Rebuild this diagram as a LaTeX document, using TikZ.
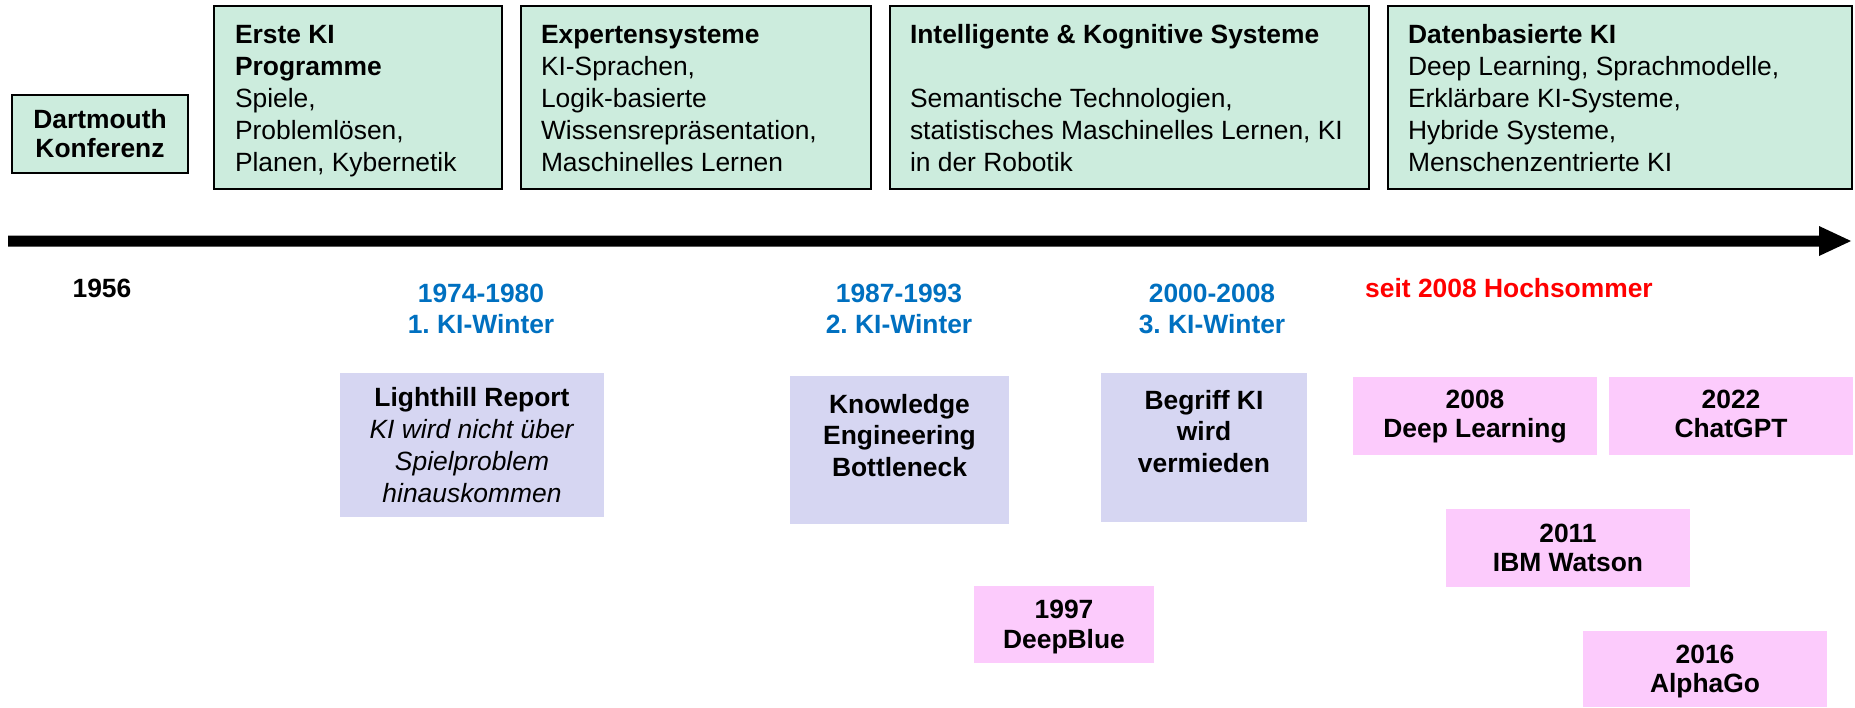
\documentclass[tikz,border=0pt]{standalone}
\usepackage{fontspec}
\setmainfont{Liberation Sans}
\usetikzlibrary{calc}
\definecolor{boxgreen}{HTML}{CCECDD}
\definecolor{boxlav}{HTML}{D6D6F2}
\definecolor{boxpink}{HTML}{FCCBFC}
\definecolor{winterblue}{HTML}{0070C0}
\definecolor{summerred}{HTML}{FF0000}
\newcommand\TLines[2]{\begin{tabular}[t]{@{}#1@{}}#2\end{tabular}}
\frenchspacing
\begin{document}
\begin{tikzpicture}[x=1pt,y=-1pt,
  erabox/.style={draw=black, line width=2.4pt, fill=boxgreen, rectangle, inner sep=0pt, outer sep=0pt, anchor=north west},
  winterbox/.style={fill=boxlav, rectangle, inner sep=0pt, outer sep=0pt, anchor=north west},
  eventbox/.style={fill=boxpink, rectangle, inner sep=0pt, outer sep=0pt, anchor=north west, minimum width=244, minimum height=78},
  txt/.style={inner sep=0pt, outer sep=0pt},
  f32/.style={font=\fontsize{26.4}{32}\selectfont},
  fbold/.style={font=\fontsize{26.4}{#1}\selectfont\bfseries},
  bluelab/.style={txt, anchor=base, text=winterblue, fbold=31}
]
\useasboundingbox (0,0) rectangle (1855,707);

% timeline arrow
\coordinate (tlstart) at (8,241);
\coordinate (tlend) at (1851,241);
\fill[black] (8,235.5) -- (1819,235.5) -- (1819,226) -- (tlend) -- (1819,256) -- (1819,246.5) -- (8,246.5) -- cycle;

% era boxes (top)
\node[erabox, minimum width=176, minimum height=78] (dart) at (12,95) {};
\node[txt, anchor=base, fbold=29] (dartT) at ($(dart.north)+(0,33)$) {\TLines{c}{Dartmouth\\Konferenz}};

\node[erabox, minimum width=288, minimum height=183] (erste) at (214,6) {};
\node[txt, anchor=base west, f32] (ersteT) at ($(erste.north west)+(21,37.5)$)
  {\TLines{l}{\textbf{Erste KI}\\\textbf{Programme}\\Spiele,\\Problemlösen,\\Planen, Kybernetik}};

\node[erabox, minimum width=350, minimum height=183] (expert) at (521,6) {};
\node[txt, anchor=base west, f32] (expertT) at ($(expert.north west)+(20,37.5)$)
  {\TLines{l}{\textbf{Expertensysteme}\\KI-Sprachen,\\Logik-basierte\\Wissensrepräsentation,\\Maschinelles Lernen}};

\node[erabox, minimum width=479, minimum height=183] (intel) at (890,6) {};
\node[txt, anchor=base west, f32] (intelT) at ($(intel.north west)+(20,37.5)$)
  {\TLines{l}{\textbf{Intelligente \& Kognitive Systeme}\\ \\Semantische Technologien,\\statistisches Maschinelles Lernen, KI\\in der Robotik}};

\node[erabox, minimum width=464, minimum height=183] (daten) at (1388,6) {};
\node[txt, anchor=base west, f32] (datenT) at ($(daten.north west)+(20,37.5)$)
  {\TLines{l}{\textbf{Datenbasierte KI}\\Deep Learning, Sprachmodelle,\\Erklärbare KI-Systeme,\\Hybride Systeme,\\Menschenzentrierte KI}};

% labels under the timeline
\node[txt, anchor=base, fbold=31] (y1956) at (102,297) {1956};
\node[bluelab] (w1) at (481,302) {\TLines{c}{1974-1980\\1. KI-Winter}};
\node[bluelab] (w2) at (899,302) {\TLines{c}{1987-1993\\2. KI-Winter}};
\node[bluelab] (w3) at (1212,302) {\TLines{c}{2000-2008\\3. KI-Winter}};
\node[txt, anchor=base, fbold=31, text=summerred] (summer) at (1509,297) {seit 2008 Hochsommer};

% winter boxes
\node[winterbox, minimum width=264, minimum height=144] (lh) at (340,373) {};
\node[txt, anchor=base, f32] (lhT) at ($(lh.north)+(0,33)$)
  {\TLines{c}{\textbf{Lighthill Report}\\\textit{KI wird nicht über}\\\textit{Spielproblem}\\\textit{hinauskommen}}};

\node[winterbox, minimum width=219, minimum height=148] (ke) at (790,376) {};
\node[txt, anchor=base, fbold=31.5] (keT) at ($(ke.north)+(0,37)$)
  {\TLines{c}{Knowledge\\Engineering\\Bottleneck}};

\node[winterbox, minimum width=206, minimum height=149] (bk) at (1101,373) {};
\node[txt, anchor=base, fbold=31.5] (bkT) at ($(bk.north)+(0,36)$)
  {\TLines{c}{Begriff KI\\wird\\vermieden}};

% event boxes
\node[eventbox, minimum width=180, minimum height=77] (db) at (974,586) {};
\node[txt, anchor=base, fbold=30] (dbT) at ($(db.north)+(0,32)$) {\TLines{c}{1997\\DeepBlue}};

\node[eventbox] (dl) at (1353,377) {};
\node[txt, anchor=base, fbold=29.5] (dlT) at ($(dl.north)+(0,31)$) {\TLines{c}{2008\\Deep Learning}};

\node[eventbox] (gpt) at (1609,377) {};
\node[txt, anchor=base, fbold=29.5] (gptT) at ($(gpt.north)+(0,31)$) {\TLines{c}{2022\\ChatGPT}};

\node[eventbox] (ibm) at (1446,509) {};
\node[txt, anchor=base, fbold=29.5] (ibmT) at ($(ibm.north)+(0,33)$) {\TLines{c}{2011\\IBM Watson}};

\node[eventbox, minimum height=76] (ag) at (1583,631) {};
\node[txt, anchor=base, fbold=29.5] (agT) at ($(ag.north)+(0,32)$) {\TLines{c}{2016\\AlphaGo}};
\end{tikzpicture}
\end{document}
